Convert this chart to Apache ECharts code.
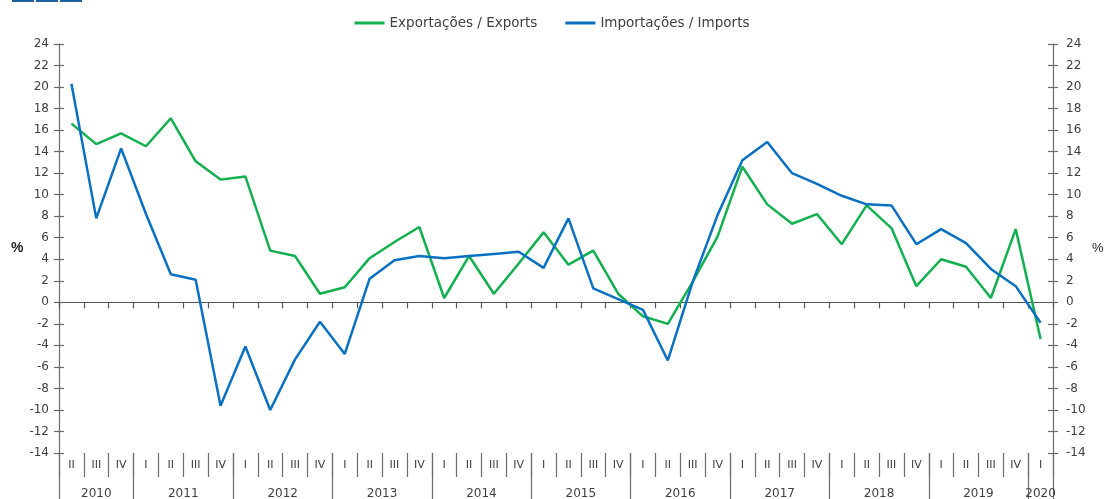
<!DOCTYPE html>
<html>
<head>
<meta charset="utf-8">
<script src="https://cdn.jsdelivr.net/npm/echarts@6/dist/echarts.min.js"></script>
<style>
html,body{margin:0;padding:0;background:#fff;}
#chart{width:1104px;height:499px;}
</style>
</head>
<body>
<div id="chart"></div>
<script>
// Quarter labels (2010 Q2 .. 2020 Q1)
var quarters = ['II','III','IV',
  'I','II','III','IV','I','II','III','IV','I','II','III','IV',
  'I','II','III','IV','I','II','III','IV','I','II','III','IV',
  'I','II','III','IV','I','II','III','IV','I','II','III','IV',
  'I'];
var years = ['2010','2010','2010',
  '2011','2011','2011','2011','2012','2012','2012','2012','2013','2013','2013','2013',
  '2014','2014','2014','2014','2015','2015','2015','2015','2016','2016','2016','2016',
  '2017','2017','2017','2017','2018','2018','2018','2018','2019','2019','2019','2019',
  '2020'];
var exportsYoY = [16.6,14.7,15.7,14.5,17.1,13.1,11.4,11.7,4.8,4.3,0.8,1.4,
  4.1,5.6,7.0,0.4,4.3,0.8,3.6,6.5,3.5,4.8,0.8,-1.3,-2.0,1.9,6.1,12.6,
  9.1,7.3,8.2,5.4,9.0,6.9,1.5,4.0,3.3,0.4,6.8,-3.4];
var importsYoY = [20.3,7.8,14.3,8.2,2.6,2.1,-9.6,-4.1,-10.0,-5.3,-1.8,-4.8,
  2.2,3.9,4.3,4.1,4.3,4.5,4.7,3.2,7.8,1.3,0.3,-0.7,-5.4,1.9,8.1,13.2,
  14.9,12.0,11.0,9.9,9.1,9.0,5.4,6.8,5.5,3.1,1.5,-1.9];
var seriesNames = ['Exportações / Exports','Importações / Imports'];
var yTitle = '%';

var categories = quarters.map(function(q,i){ return years[i] + ' ' + q; });
// year group boundaries and centres (in quarter units)
var yearBounds = [0], yearCentres = [], yearNames = [];
(function(){
  var start = 0;
  for (var i = 1; i <= years.length; i++) {
    if (i === years.length || years[i] !== years[i-1]) {
      yearBounds.push(i);
      yearCentres.push((start + i) / 2);
      yearNames.push(years[i-1]);
      start = i;
    }
  }
})();

var FONT = '"DejaVu Sans", Verdana, sans-serif';
var AXIS = '#6b6b6b';
var TXT = '#404040';

function yAx(pos, inside, labels){
  return {
    type:'value', position:pos, min:-14, max:24, interval:2,
    axisLine:{show:!inside, lineStyle:{color:AXIS, width:1.2}},
    axisTick:{show:true, inside:inside, length:5, lineStyle:{color:AXIS, width:1.2}},
    axisLabel:{show:labels, color:TXT, fontSize:12, fontFamily:FONT, margin: pos==='left'?10:13},
    splitLine:{show:false},
    name: labels ? yTitle : '',
    nameLocation:'middle', nameRotate:0,
    nameGap: pos==='left'?34:39,
    nameTextStyle:{color:'#222', fontSize: pos==='left'?14:13, fontFamily:'"Liberation Sans", Arial, sans-serif', fontWeight: pos==='left'?'bold':'normal'}
  };
}

var chart = echarts.init(document.getElementById('chart'), null, {renderer:'canvas'});
chart.setOption({
  animation:false,
  backgroundColor:'#fff',
  grid:{left:59, right:51, top:44, bottom:46, containLabel:false, outerBoundsMode:'none'},
  legend:{
    top:11, left:'center', itemGap:28, itemWidth:30, itemHeight:3, icon:'rect',
    textStyle:{color:TXT, fontSize:13.5, fontFamily:FONT},
    data:seriesNames
  },
  graphic:[
    {type:'rect', shape:{x:12,y:0,width:22,height:2}, style:{fill:'#1f5fa0'}},
    {type:'rect', shape:{x:36,y:0,width:22,height:2}, style:{fill:'#1f5fa0'}},
    {type:'rect', shape:{x:60,y:0,width:22,height:2}, style:{fill:'#1f5fa0'}}
  ],
  xAxis:[
    { // zero line with ticks between quarters
      type:'category', data:categories, boundaryGap:true,
      axisLine:{onZero:true, lineStyle:{color:'#555', width:1.2}},
      axisTick:{show:true, interval:0, length:6, lineStyle:{color:'#555', width:1.2}},
      axisLabel:{show:false}, splitLine:{show:false}
    },
    { // quarter labels
      type:'category', data:quarters, position:'bottom', boundaryGap:true,
      axisLine:{show:false, onZero:false},
      axisTick:{show:true, interval:0, length:24, lineStyle:{color:AXIS, width:1.2}},
      axisLabel:{interval:0, color:TXT, fontSize:11, fontFamily:FONT, margin:7},
      splitLine:{show:false}
    },
    { // year labels
      type:'value', position:'bottom', min:0, max:quarters.length,
      axisLine:{show:false, onZero:false},
      axisTick:{show:true, customValues:yearBounds, length:47, lineStyle:{color:AXIS, width:1.2}},
      axisLabel:{customValues:yearCentres, color:TXT, fontSize:12, fontFamily:FONT, margin:35,
        formatter:function(v){ var k = yearCentres.indexOf(v); return k>=0 ? yearNames[k] : ''; }},
      splitLine:{show:false}
    }
  ],
  yAxis:[ yAx('left', false, true), yAx('left', true, false), yAx('right', false, true), yAx('right', true, false) ],
  series:[
    {name:seriesNames[0], type:'line', data:exportsYoY, xAxisIndex:0, yAxisIndex:0,
     symbol:'none', lineStyle:{color:'#12b04f', width:2.5}, itemStyle:{color:'#12b04f'}},
    {name:seriesNames[1], type:'line', data:importsYoY, xAxisIndex:0, yAxisIndex:0,
     symbol:'none', lineStyle:{color:'#0a70c2', width:2.5}, itemStyle:{color:'#0a70c2'}}
  ]
});
</script>
</body>
</html>
